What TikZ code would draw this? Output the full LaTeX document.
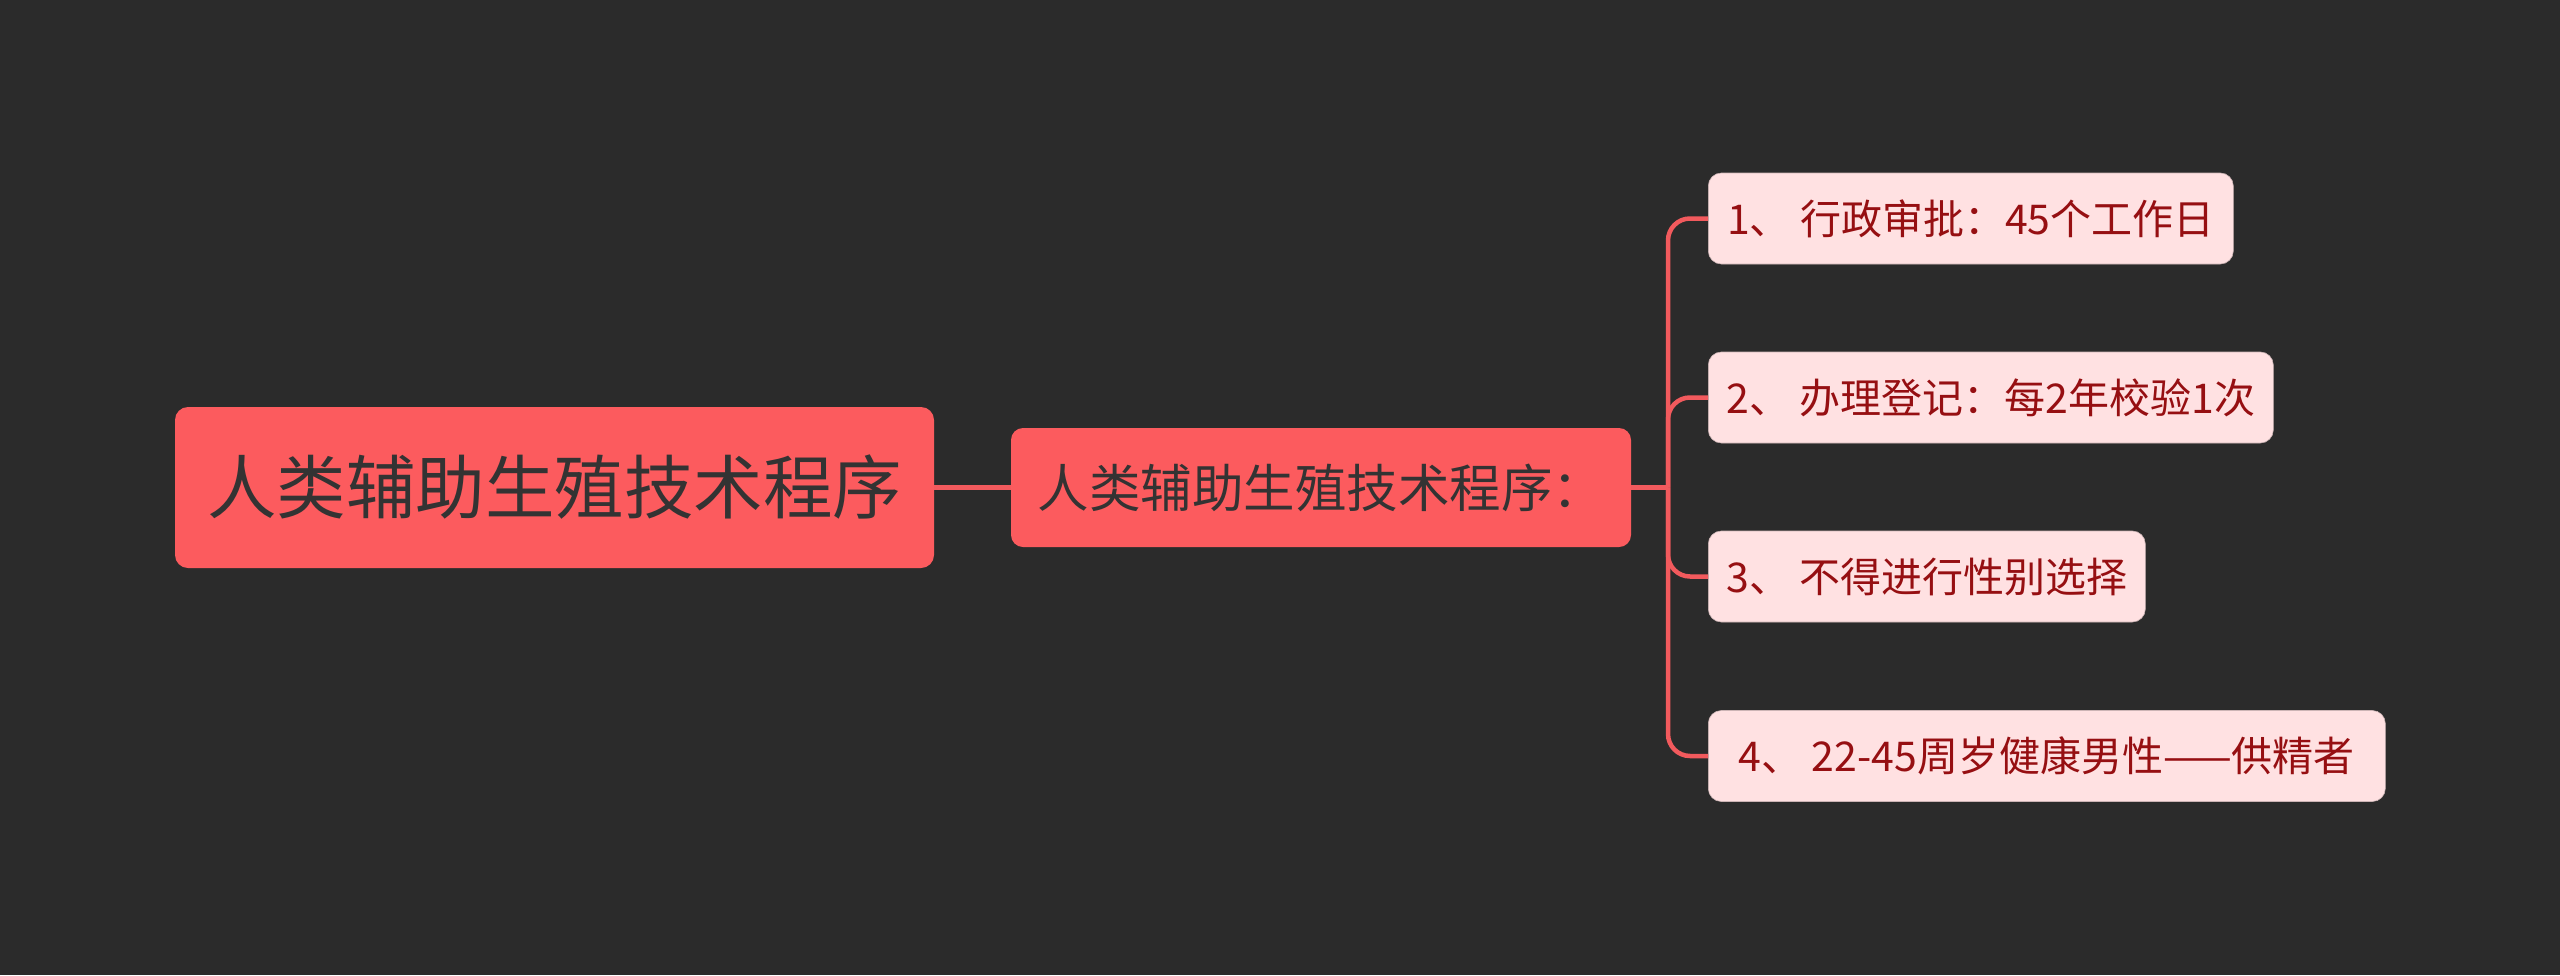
\documentclass[tikz,border=0pt]{standalone}
\usepackage{fontspec}
\setmainfont{Noto Sans CJK SC}
\definecolor{bgc}{HTML}{2B2B2B}
\definecolor{mainred}{HTML}{FC5B5E}
\definecolor{leaffill}{HTML}{FFE1E2}
\definecolor{leaftext}{HTML}{960F12}
\definecolor{darktext}{HTML}{333333}
\definecolor{linec}{HTML}{F25A5D}
\begin{document}
\begin{tikzpicture}[x=1pt,y=-1pt,
  rootbox/.style={fill=mainred, rounded corners=13pt, text=darktext, inner sep=0pt, minimum height=161pt, minimum width=759pt, font=\fontsize{69.5}{75}\selectfont},
  midbox/.style={fill=mainred, rounded corners=12pt, text=darktext, inner sep=0pt, minimum height=119pt, minimum width=620pt, font=\fontsize{51.5}{56}\selectfont},
  leafbox/.style={fill=leaffill, draw=leaffill!80!black, line width=0.6pt, rounded corners=13pt, text=leaftext, inner sep=0pt, minimum height=91pt, anchor=west, font=\fontsize{41}{46}\selectfont},
  conn/.style={draw=linec, line width=4.5pt, rounded corners=22pt}
]
\useasboundingbox[fill=bgc] (0,0) rectangle (2560,975);
\node[rootbox] (root) at (554.5,487.5) {人类辅助生殖技术程序};
\node[midbox] (mid) at (1321,487.5) {人类辅助生殖技术程序：};
\coordinate (trunk) at (1668,487.5);
\node[leafbox, minimum width=525pt] (l1) at (1708,218.5) {1、 行政审批：45个工作日};
\node[leafbox, minimum width=565pt] (l2) at (1708,397.5) {2、 办理登记：每2年校验1次};
\node[leafbox, minimum width=437pt] (l3) at (1708,576.5) {3、 不得进行性别选择};
\node[leafbox, minimum width=677pt] (l4) at (1708,756) {4、 22-45周岁健康男性——供精者};
\draw[conn] (root.east) -- (mid.west);
\draw[conn] (mid.east) -- (trunk);
\draw[conn] (trunk) |- (l1.west);
\draw[conn] (trunk) |- (l2.west);
\draw[conn] (trunk) |- (l3.west);
\draw[conn] (trunk) |- (l4.west);
\end{tikzpicture}
\end{document}
